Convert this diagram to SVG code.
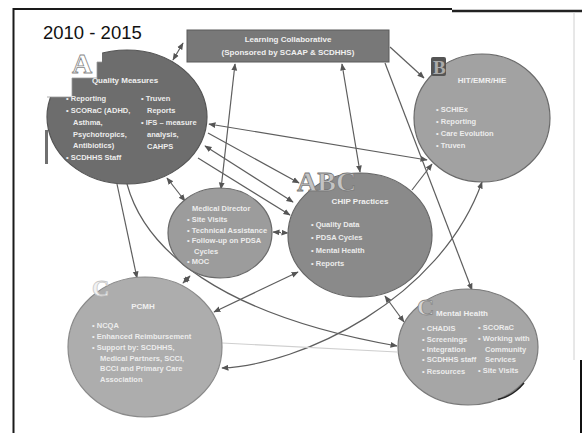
<svg xmlns="http://www.w3.org/2000/svg" width="582" height="433" viewBox="0 0 582 433">
<defs>
<marker id="ah" viewBox="0 0 10 10" refX="9" refY="5" markerWidth="6" markerHeight="6" orient="auto-start-reverse">
<path d="M0,1 L10,5 L0,9 z" fill="#555"/>
</marker>
<style>
.t{font-family:"Liberation Sans",Arial,sans-serif;font-size:7.5px;font-weight:bold;fill:#ececec}
.h{font-family:"Liberation Sans",Arial,sans-serif;font-size:8px;font-weight:bold;fill:#f0f0f0;text-anchor:middle}
.c{fill:none;stroke:#5e5e5e;stroke-width:1.2}
.ab{marker-end:url(#ah)}
.aa{marker-start:url(#ah);marker-end:url(#ah)}
.lt{font-family:"Liberation Serif","Times New Roman",serif;font-weight:bold}
</style>
</defs>
<rect width="582" height="433" fill="#fff"/>
<g id="frame" fill="none">
<path d="M13.5,433 V9 H452" stroke="#1a1a1a" stroke-width="2"/>
<path d="M452,11 H582" stroke="#222" stroke-width="2.5"/>
<path d="M574,12 V360" stroke="#d0d0d0" stroke-width="1"/>
<path d="M581,360 V433" stroke="#111" stroke-width="2"/>
</g>
<text x="43" y="39" font-family="Liberation Sans,Arial,sans-serif" font-size="18.5" fill="#111">2010 - 2015</text>
<g id="connectors">
<path class="c aa" d="M183,43 L173,60"/>
<path class="c aa" d="M235,64 L221,189"/>
<path class="c aa" d="M342,64 L360,172"/>
<path class="c ab" d="M385,63 L472,290"/>
<path class="c ab" d="M390,47 L424,78"/>
<path class="c aa" d="M209,124 L427,160"/>
<path class="c ab" d="M208,133 L299,183"/>
<path class="c aa" d="M205,146 L293,202"/>
<path class="c ab" d="M198,158 L290,215"/>
<path class="c aa" d="M167,178 L185,201"/>
<path class="c aa" d="M273,232 L288,233" stroke-dasharray="2,1"/>
<path class="c aa" d="M190,276 L183,283" stroke-dasharray="2,1"/>
<path class="c aa" d="M298,272 L214,312"/>
<path class="c aa" d="M385,296 L404,322"/>
<path class="c ab" d="M412,190 L432,164"/>
<path class="c ab" d="M117,184 L137,278"/>
<path class="c ab" d="M127,184 C145,250 220,315 397,346"/>
<path class="c aa" d="M222,368 C300,365 440,300 482,182"/>
<path d="M222,343 L397,352" fill="none" stroke="#cfcfcf" stroke-width="1.2"/>
</g>
<g id="learning">
<rect x="187" y="30" width="202" height="32" fill="#787878" stroke="#5a5a5a" stroke-width="1"/>
<text class="h" x="288" y="42">Learning Collaborative</text>
<text class="h" x="288" y="55">(Sponsored by SCAAP &amp; SCDHHS)</text>
</g>
<g id="quality">
<ellipse cx="127" cy="117" rx="80" ry="67" fill="#6d6d6d" stroke="#555" stroke-width="1.2"/>
<path d="M44,97 H72 V78 H97 V62 H102 V48 H44 Z" fill="#fff"/>
<path d="M47,97 H72 V78 H97 V62 H102" fill="none" stroke="#9a9a9a" stroke-width="0.8"/>
<rect x="45" y="130" width="3" height="34" fill="#333" opacity="0.7"/>
<text class="lt" x="72" y="73" font-size="28" fill="#fff" stroke="#888" stroke-width="0.8">A</text>
<text class="h" x="125" y="83">Quality Measures</text>
<text class="t" x="66" y="101">• Reporting</text>
<text class="t" x="66" y="113">• SCORaC (ADHD,</text>
<text class="t" x="73" y="125">Asthma,</text>
<text class="t" x="73" y="137">Psychotropics,</text>
<text class="t" x="73" y="148">Antibiotics)</text>
<text class="t" x="66" y="160">• SCDHHS Staff</text>
<text class="t" x="141" y="101">• Truven</text>
<text class="t" x="147" y="113">Reports</text>
<text class="t" x="141" y="125">• IFS – measure</text>
<text class="t" x="147" y="137">analysis,</text>
<text class="t" x="147" y="149">CAHPS</text>
</g>
<g id="hit">
<ellipse cx="482" cy="118" rx="68" ry="64" fill="#a2a2a2" stroke="#6a6a6a" stroke-width="1.2"/>
<rect x="431" y="57" width="15" height="19" rx="2" fill="#555"/>
<text class="lt" x="433" y="74" font-size="19" fill="#aaa">B</text>
<text class="h" x="482" y="83">HIT/EMR/HIE</text>
<text class="t" x="436" y="112">• SCHIEx</text>
<text class="t" x="436" y="124">• Reporting</text>
<text class="t" x="436" y="136">• Care Evolution</text>
<text class="t" x="436" y="148">• Truven</text>
</g>
<g id="meddir">
<ellipse cx="220" cy="233" rx="52" ry="45" fill="#9c9c9c" stroke="#6a6a6a" stroke-width="1.2"/>
<text class="t" x="192" y="211">Medical Director</text>
<text class="t" x="187" y="222">• Site Visits</text>
<text class="t" x="187" y="233">• Technical Assistance</text>
<text class="t" x="187" y="243">• Follow-up on PDSA</text>
<text class="t" x="194" y="254">Cycles</text>
<text class="t" x="187" y="264">• MOC</text>
</g>
<g id="chip">
<ellipse cx="360" cy="235" rx="72" ry="62" fill="#8a8a8a" stroke="#666" stroke-width="1.2"/>
<text class="lt" x="297" y="191" font-size="28" fill="#c4c4c4" stroke="#7a7a7a" stroke-width="0.8">ABC</text>
<text class="h" x="360" y="204">CHIP Practices</text>
<text class="t" x="311" y="227">• Quality Data</text>
<text class="t" x="311" y="240">• PDSA Cycles</text>
<text class="t" x="311" y="253">• Mental Health</text>
<text class="t" x="311" y="266">• Reports</text>
</g>
<g id="pcmh">
<ellipse cx="145" cy="347" rx="77" ry="70" fill="#adadad" stroke="#8a8a8a" stroke-width="1.2"/>
<text class="lt" x="92" y="296" font-size="24" fill="#f2f2f2" stroke="#c8c8c8" stroke-width="0.8">C</text>
<text class="h" x="143" y="309">PCMH</text>
<text class="t" x="92" y="328">• NCQA</text>
<text class="t" x="92" y="339">• Enhanced Reimbursement</text>
<text class="t" x="92" y="350">• Support by: SCDHHS,</text>
<text class="t" x="100" y="361">Medical Partners, SCCI,</text>
<text class="t" x="100" y="371">BCCI and Primary Care</text>
<text class="t" x="100" y="382">Association</text>
</g>
<g id="mental">
<ellipse cx="468" cy="347" rx="70" ry="58" fill="#a6a6a6" stroke="#7a7a7a" stroke-width="1.2"/>
<path d="M498,399.5 Q513,396 524,383" fill="none" stroke="#222" stroke-width="1.5"/>
<text class="lt" x="417" y="315" font-size="24" fill="#d8d8d8" stroke="#888" stroke-width="0.8">C</text>
<text class="h" x="462" y="316">Mental Health</text>
<text class="t" x="422" y="331">• CHADIS</text>
<text class="t" x="422" y="342">• Screenings</text>
<text class="t" x="422" y="352">• Integration</text>
<text class="t" x="422" y="362">• SCDHHS staff</text>
<text class="t" x="422" y="374">• Resources</text>
<text class="t" x="478" y="330">• SCORaC</text>
<text class="t" x="478" y="341">• Working with</text>
<text class="t" x="485" y="352">Community</text>
<text class="t" x="485" y="362">Services</text>
<text class="t" x="478" y="373">• Site Visits</text>
</g>
</svg>
